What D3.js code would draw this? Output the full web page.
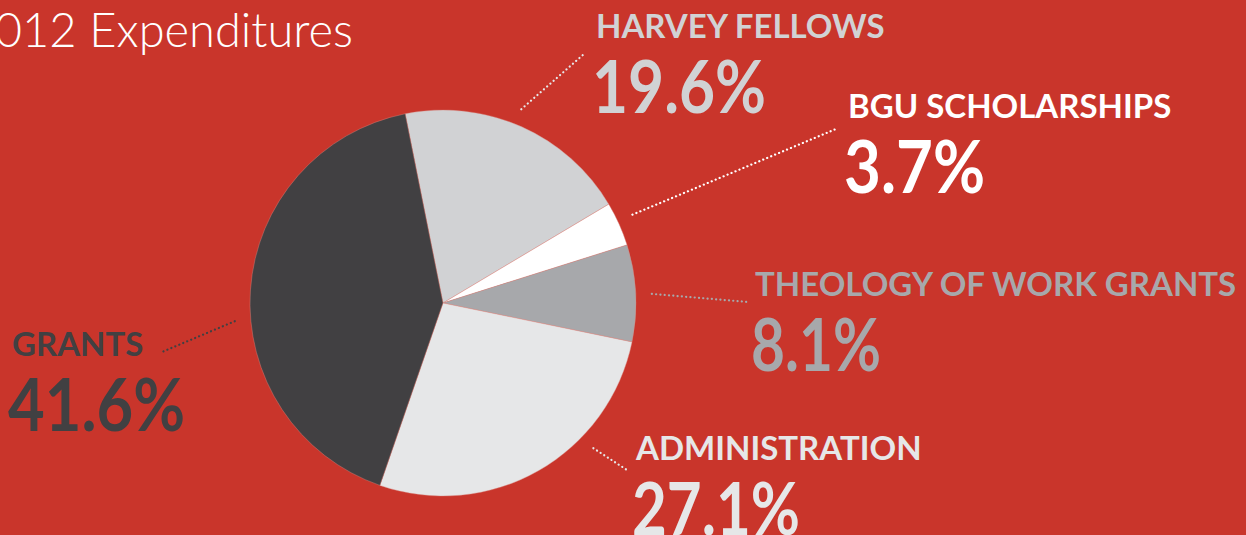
<!DOCTYPE html>
<html>
<head>
<meta charset="utf-8">
<script src="https://cdn.jsdelivr.net/npm/d3@7"></script>
<style>
  html, body { margin: 0; padding: 0; background: #c9352b; overflow: hidden; }
  text { font-family: Lato, "Open Sans", sans-serif; }
</style>
</head>
<body>
<div id="chart"></div>
<script>
// chart data
var categories = ["Harvey Fellows", "BGU Scholarships", "Theology of Work Grants", "Administration", "Grants"];
var values = [19.6, 3.7, 8.1, 27.1, 41.6];
var labels = ["HARVEY FELLOWS", "BGU SCHOLARSHIPS", "THEOLOGY OF WORK GRANTS", "ADMINISTRATION", "GRANTS"];
var colors = ["#d1d2d4", "#ffffff", "#a7a8ab", "#e6e7e8", "#414042"];

// label placement (annotation layout only)
var labelX = [596, 848, 755, 636, 12];
var labelY = [38, 118, 296, 460, 356];
var pctWidth = [174, 141, 130, 168, 177];   // the display face has narrow numerals
var lineAngle = [22, 65, 87.5, 134, 265];   // degrees, where the leader leaves the pie
var lineEnd = [[584, 54], [836, 129], [748, 302], [627, 470], [162, 352]];

var width = 1246, height = 535;
var cx = 443, cy = 303, radius = 193;

var svg = d3.select("#chart")
    .append("svg")
    .attr("width", width)
    .attr("height", height);

svg.append("rect")
    .attr("width", width)
    .attr("height", height)
    .attr("fill", "#c9352b");

// title (the leading "2" sits off the left edge)
svg.append("text")
    .attr("x", 353)
    .attr("y", 47)
    .attr("text-anchor", "end")
    .attr("fill", "#ffffff")
    .style("font-size", "47px")
    .style("font-weight", 300)
    .text("2012 Expenditures");

var startAngle = -11.3 * Math.PI / 180;

var pie = d3.pie()
    .sort(null)
    .value(function (d) { return d; })
    .startAngle(startAngle)
    .endAngle(startAngle + 2 * Math.PI);

var arc = d3.arc().innerRadius(0).outerRadius(radius);

var g = svg.append("g")
    .attr("transform", "translate(" + cx + "," + cy + ")");

g.selectAll("path.slice")
    .data(pie(values))
    .enter().append("path")
    .attr("class", "slice")
    .attr("d", arc)
    .attr("fill", function (d, i) { return colors[i]; })
    .attr("stroke", "#d98a84")
    .attr("stroke-width", 0.4);

// leader lines (dotted)
svg.selectAll("line.leader")
    .data(categories)
    .enter().append("line")
    .attr("class", "leader")
    .attr("x1", function (d, i) { return cx + d3.pointRadial(lineAngle[i] * Math.PI / 180, 209)[0]; })
    .attr("y1", function (d, i) { return cy + d3.pointRadial(lineAngle[i] * Math.PI / 180, 209)[1]; })
    .attr("x2", function (d, i) { return lineEnd[i][0]; })
    .attr("y2", function (d, i) { return lineEnd[i][1]; })
    .attr("stroke", function (d, i) { return i === 0 ? "#e6e7e8" : colors[i]; })
    .attr("stroke-width", 2.2)
    .attr("stroke-linecap", "round")
    .attr("stroke-dasharray", "0.1 4.2");

// category names
svg.selectAll("text.cat")
    .data(labels)
    .enter().append("text")
    .attr("class", "cat")
    .attr("x", function (d, i) { return labelX[i]; })
    .attr("y", function (d, i) { return labelY[i]; })
    .attr("fill", function (d, i) { return colors[i]; })
    .style("font-size", "33px")
    .style("font-weight", 700)
    .text(function (d) { return d; });

// percentages
svg.selectAll("text.pct")
    .data(values)
    .enter().append("text")
    .attr("class", "pct")
    .attr("x", function (d, i) { return labelX[i] - 4; })
    .attr("y", function (d, i) { return labelY[i] + 75; })
    .attr("fill", function (d, i) { return colors[i]; })
    .attr("textLength", function (d, i) { return pctWidth[i]; })
    .attr("lengthAdjust", "spacingAndGlyphs")
    .style("font-size", "72px")
    .style("font-weight", 700)
    .text(function (d) { return d.toFixed(1) + "%"; });
</script>
</body>
</html>
